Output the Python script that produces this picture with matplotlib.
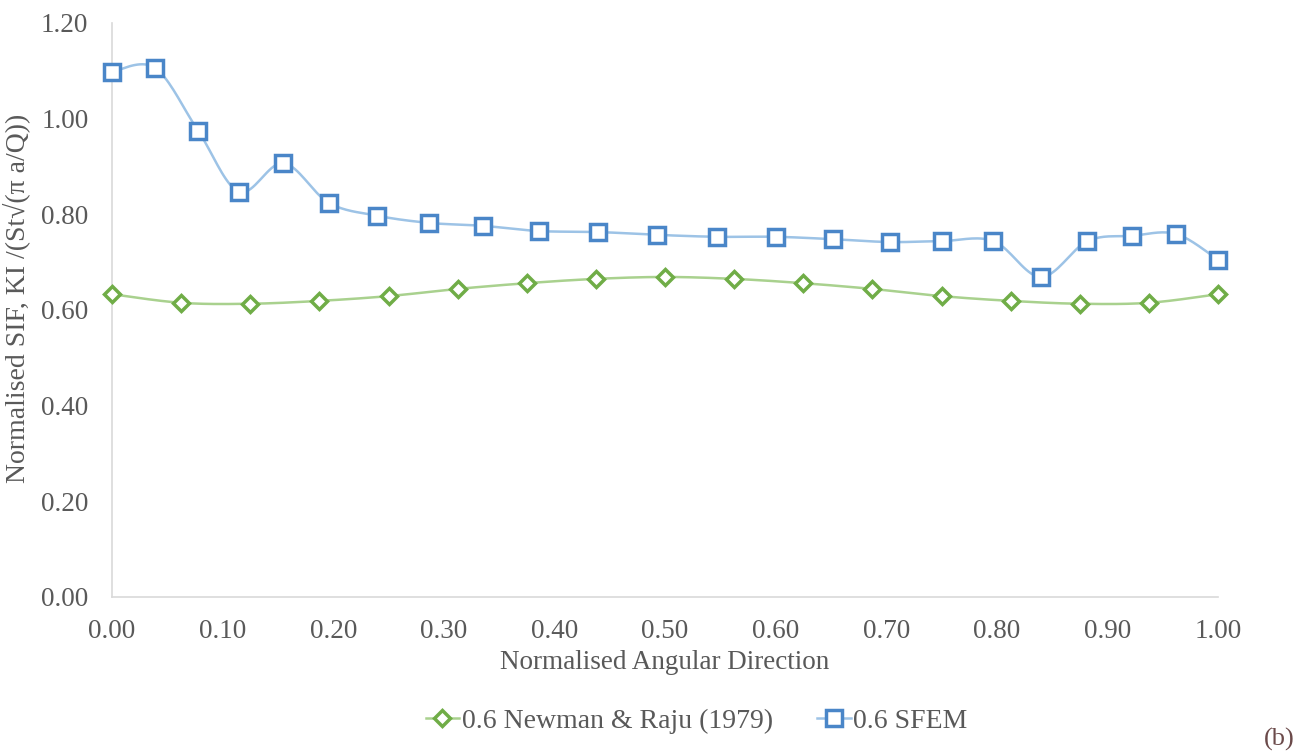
import numpy as np
import matplotlib.pyplot as plt

# Newman & Raju (1979) reference solution, a/c = 0.6
nr_x = [0.0, 0.0625, 0.125, 0.1875, 0.25, 0.3125, 0.375, 0.4375, 0.5,
        0.5625, 0.625, 0.6875, 0.75, 0.8125, 0.875, 0.9375, 1.0]
nr_y = [0.633, 0.615, 0.613, 0.619, 0.629, 0.644, 0.656, 0.665, 0.669,
        0.665, 0.656, 0.644, 0.629, 0.619, 0.613, 0.615, 0.633]

# SFEM results, a/c = 0.6
sfem_x = [0.0, 0.039, 0.078, 0.115, 0.155, 0.196, 0.240, 0.287, 0.335,
          0.386, 0.439, 0.493, 0.547, 0.600, 0.652, 0.703, 0.750, 0.797,
          0.840, 0.882, 0.922, 0.962, 1.0]
sfem_y = [1.098, 1.106, 0.974, 0.847, 0.907, 0.824, 0.797, 0.782, 0.776,
          0.765, 0.763, 0.757, 0.753, 0.753, 0.748, 0.742, 0.744, 0.744,
          0.669, 0.744, 0.755, 0.759, 0.705]

yticks = [0.0, 0.2, 0.4, 0.6, 0.8, 1.0, 1.2]
xticks = [0.0, 0.1, 0.2, 0.3, 0.4, 0.5, 0.6, 0.7, 0.8, 0.9, 1.0]


def smooth(x, y, n=20):
    # Catmull-Rom style curve through the points (like a smoothed line)
    x = np.asarray(x, float)
    y = np.asarray(y, float)
    px = np.concatenate([[x[0]], x, [x[-1]]])
    py = np.concatenate([[y[0]], y, [y[-1]]])
    t = np.linspace(0, 1, n)
    ox, oy = [], []
    for i in range(1, len(px) - 2):
        for p, o in ((px, ox), (py, oy)):
            p0, p1, p2, p3 = p[i - 1], p[i], p[i + 1], p[i + 2]
            c1 = p1 + (p2 - p0) / 6
            c2 = p2 - (p3 - p1) / 6
            o.extend((1 - t) ** 3 * p1 + 3 * (1 - t) ** 2 * t * c1
                     + 3 * (1 - t) * t ** 2 * c2 + t ** 3 * p2)
    return ox, oy


plt.rcParams['font.family'] = 'Liberation Serif'
text_color = '#595959'

fig = plt.figure(figsize=(13.01, 7.51), dpi=100)
ax = fig.add_axes([0.0861, 0.2051, 0.8501, 0.7643])

green_line, green_mark = '#a9d18e', '#70ad47'
blue_line, blue_mark = '#9dc3e6', '#4a86c8'

sx, sy = smooth(nr_x, nr_y)
ax.plot(sx, sy, color=green_line, lw=1.8, zorder=2, clip_on=False)
ax.plot(nr_x, nr_y, ls='none', marker='D', ms=8, mfc='white',
        mec=green_mark, mew=2.5, zorder=3, clip_on=False)

sx, sy = smooth(sfem_x, sfem_y)
ax.plot(sx, sy, color=blue_line, lw=1.8, zorder=2, clip_on=False)
ax.plot(sfem_x, sfem_y, ls='none', marker='s', ms=11, mfc='white',
        mec=blue_mark, mew=2.5, zorder=3, clip_on=False)

ax.set_xlim(0, 1)
ax.set_ylim(0, 1.2)
ax.set_xticks(xticks)
ax.set_yticks(yticks)
ax.set_xticklabels(['%.2f' % v for v in xticks])
ax.set_yticklabels(['%.2f' % v for v in yticks])
ax.tick_params(length=0, labelsize=19.5, colors=text_color)
ax.tick_params(axis='y', pad=17)
ax.tick_params(axis='x', pad=16)

for s in ['top', 'right']:
    ax.spines[s].set_visible(False)
for s in ['left', 'bottom']:
    ax.spines[s].set_color('#d9d9d9')
    ax.spines[s].set_linewidth(1.2)

ax.set_xlabel('Normalised Angular Direction', fontsize=19.5,
              color=text_color, labelpad=4.5)
ax.set_ylabel('Normalised SIF, KI /(St\u221a(\u03c0 a/Q))', fontsize=20,
              color=text_color)
ax.yaxis.set_label_coords(-0.074, 0.521)

h1, = ax.plot([], [], color=green_line, lw=1.8, marker='D', ms=8,
              mfc='white', mec=green_mark, mew=2.5)
h2, = ax.plot([], [], color=blue_line, lw=1.8, marker='s', ms=11,
              mfc='white', mec=blue_mark, mew=2.5)
fig.legend([h1, h2], ['0.6 Newman & Raju (1979)', '0.6 SFEM'],
           loc='center', bbox_to_anchor=(0.5354, 0.040), ncol=2,
           frameon=False, fontsize=20, labelcolor=text_color,
           handlelength=1.2, handletextpad=0.1, columnspacing=1.6)

fig.text(0.995, 0.007, '(b)', fontsize=19, color='#6b4a4a', ha='right')

fig.savefig('out.png', dpi=100)
